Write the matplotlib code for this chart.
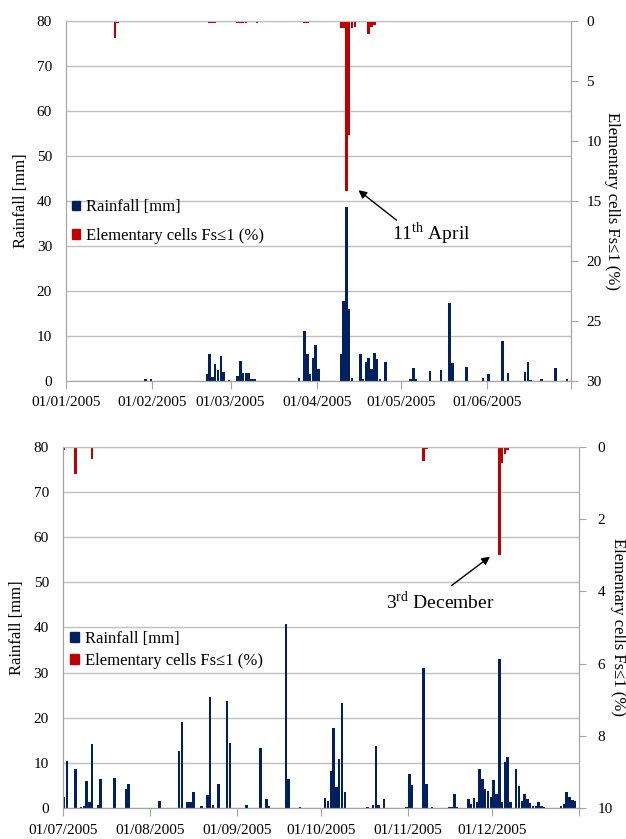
"""
plot.py

Daily rainfall (bars from the bottom) and share of elementary cells with
Fs<=1 (bars hanging from the top, reversed right axis), two half-years of 2005.
"""

import datetime as dt

import matplotlib
matplotlib.use("Agg")
import matplotlib.pyplot as plt
import matplotlib.dates as mdates
from matplotlib.patches import Patch

plt.rcParams["font.family"] = ["Liberation Serif", "DejaVu Serif"]
plt.rcParams["mathtext.fontset"] = "custom"
plt.rcParams["mathtext.rm"] = "Liberation Serif"

#####################################
# Data (day = days since the start of each panel)
#####################################

# January - June 2005
start_1 = dt.date(2005, 1, 1)
end_1 = dt.date(2005, 7, 1)
rain_days_1 = [28, 30, 50, 51, 52, 53, 54, 55, 56, 58, 61, 62, 63, 64, 65, 66, 67,
               83, 85, 86, 87, 88, 89, 90, 98, 99, 100, 101, 102,
               105, 106, 107, 108, 109, 110, 111, 112, 114,
               123, 124, 125, 130, 134, 137, 138, 143, 149, 151, 156, 158,
               164, 165, 166, 170, 175, 179]
rain_mm_1 = [0.5, 0.5, 1.5, 5.9, 0.8, 3.8, 2.5, 5.5, 2.0, 0.3, 1.2, 4.4, 1.8, 1.8, 1.8, 0.4, 0.4,
             0.6, 11.1, 5.9, 1.5, 5.2, 7.9, 2.6, 6.1, 17.7, 38.7, 15.9, 0.7,
             5.9, 0.4, 4.3, 5.2, 2.6, 6.3, 4.9, 0.5, 4.3,
             0.5, 2.9, 0.4, 2.2, 2.4, 17.4, 4.0, 3.1, 0.6, 1.5, 8.9, 1.8,
             2.0, 4.2, 0.3, 0.5, 2.9, 0.5]
cells_days_1 = [17, 18, 21, 51, 52, 53, 55, 56, 61, 62, 63, 64, 65, 68, 69,
                85, 86, 87, 88, 89, 90, 98, 99, 100, 101, 102, 103,
                108, 109, 110, 113, 114, 115, 137, 138]
cells_pct_1 = [1.4, 0.15, 0.1, 0.15, 0.15, 0.15, 0.1, 0.1, 0.15, 0.15, 0.15, 0.15, 0.1, 0.15, 0.1,
               0.15, 0.15, 0.1, 0.1, 0.1, 0.1, 0.6, 0.6, 14.2, 9.5, 0.6, 0.5,
               1.1, 0.5, 0.3, 0.1, 0.1, 0.1, 0.1, 0.05]

# July - December 2005
start_2 = dt.date(2005, 7, 1)
end_2 = dt.date(2006, 1, 1)
rain_days_2 = [0, 1, 4, 6, 7, 8, 9, 10, 12, 13, 18, 22, 23, 34, 41, 42, 44, 45, 46, 49,
               51, 52, 53, 55, 58, 59, 65, 70, 72, 73, 79, 80, 84,
               93, 94, 95, 96, 97, 98, 99, 100, 108, 110, 111, 112, 114,
               122, 123, 124, 128, 129, 131, 137, 138, 139, 140,
               144, 145, 146, 147, 148, 149, 150, 151, 152, 153, 154, 155, 156, 157,
               158, 159, 161, 162, 163, 164, 165, 166, 167, 168, 169, 170, 171,
               177, 178, 179, 180, 181, 182]
rain_mm_2 = [2.6, 10.4, 8.6, 0.3, 0.4, 6.1, 1.3, 14.3, 0.8, 6.5, 6.8, 4.3, 5.4, 1.7, 12.7, 19.0,
             1.3, 1.3, 3.5, 0.5,
             2.9, 24.7, 0.8, 5.4, 23.7, 14.4, 0.7, 13.4, 2.1, 0.4, 40.8, 6.5, 0.3,
             2.3, 1.6, 8.2, 17.8, 4.7, 10.9, 23.3, 3.5, 0.3, 0.7, 13.8, 0.7, 2.1,
             0.2, 7.6, 5.1, 31.0, 5.4, 0.3, 0.2, 0.3, 3.2, 0.2,
             2.1, 0.9, 2.2, 1.3, 8.8, 6.4, 4.2, 3.9, 2.6, 6.3, 3.1, 33.0, 1.5, 10.3,
             11.4, 1.5, 8.7, 4.9, 1.6, 3.1, 2.1, 1.1, 0.5, 0.5, 1.3, 0.6, 0.2,
             0.6, 1.0, 3.5, 2.6, 1.8, 1.7]
cells_days_2 = [0, 4, 5, 9, 10, 18, 42, 96, 99, 111, 128, 129, 149, 155, 156, 157, 158]
cells_pct_2 = [0.1, 0.75, 0.05, 0.05, 0.35, 0.03, 0.05, 0.03, 0.05, 0.03, 0.4, 0.07, 0.03,
               3.0, 0.46, 0.2, 0.1]

RAIN_COLOR = "#002060"
CELLS_COLOR = "#c00000"
GRID_COLOR = "#c0c0c0"
SPINE_COLOR = "#a6a6a6"


def month_starts(start, end):
    """List the first day of every month from start to end (inclusive)."""
    out = []
    d = start
    while d <= end:
        out.append(d)
        d = dt.date(d.year + (d.month == 12), d.month % 12 + 1, 1)
    return out


def draw_panel(rect, start, end, rain_days, rain_mm, cells_days, cells_pct,
               cells_max, cells_step, legend_anchor, legend_spacing, right_pad,
               right_labelpad):
    ax = fig.add_axes(rect)
    ax2 = ax.twinx()

    x0 = mdates.date2num(start)
    rain_x = [x0 + d + 0.5 for d in rain_days]
    cells_x = [x0 + d + 0.5 for d in cells_days]

    ax.bar(rain_x, rain_mm, width=0.88, color=RAIN_COLOR, linewidth=0, zorder=2)
    ax2.bar(cells_x, cells_pct, width=0.88, color=CELLS_COLOR, linewidth=0, zorder=2)

    ax.set_xlim(x0, mdates.date2num(end))
    ax.set_ylim(0, 80)
    ax.set_yticks(range(0, 81, 10))
    ax.grid(axis="y", color=GRID_COLOR, linewidth=1.0)
    ax.set_axisbelow(True)

    ax2.set_ylim(cells_max, 0)
    ax2.set_yticks([v for v in range(0, cells_max + 1, cells_step)])

    ticks = month_starts(start, end)
    ax.set_xticks([mdates.date2num(t) for t in ticks])
    ax.set_xticklabels([t.strftime("%d/%m/%Y") for t in ticks[:-1]] + [""])

    ax.tick_params(axis="x", length=6, width=0.8, color=SPINE_COLOR, pad=5, labelsize=11)
    ax.tick_params(axis="y", length=0, pad=10, labelsize=11)
    ax2.tick_params(axis="y", length=5, width=0.8, color=SPINE_COLOR, pad=right_pad,
                    labelsize=11)

    for a in (ax, ax2):
        for side in ("left", "right", "bottom"):
            a.spines[side].set_color(SPINE_COLOR)
        a.spines["top"].set_color(GRID_COLOR)

    ax.set_ylabel("Rainfall [mm]", fontsize=12, labelpad=6)
    ax2.set_ylabel("Elementary cells Fs\u22641 (%)", fontsize=12, rotation=270,
                   labelpad=right_labelpad)

    handles = [Patch(color=RAIN_COLOR, label="Rainfall [mm]"),
               Patch(color=CELLS_COLOR, label="Elementary cells Fs\u22641 (%)")]
    ax2.legend(handles=handles, loc="upper left", bbox_to_anchor=legend_anchor,
               frameon=False, fontsize=12, handlelength=0.5, handleheight=0.5,
               handletextpad=0.35, borderpad=0, borderaxespad=0,
               labelspacing=legend_spacing)
    return ax, ax2


#####################################
# Figure
#####################################

fig = plt.figure(figsize=(6.26, 8.39), dpi=100)

ax_a, ax_a2 = draw_panel([0.1054, 0.5459, 0.8067, 0.4290], start_1, end_1,
                         rain_days_1, rain_mm_1, cells_days_1, cells_pct_1,
                         30, 5, (0.012, 0.505), 0.75, 6, 13)
ax_b, ax_b2 = draw_panel([0.1002, 0.0366, 0.8252, 0.4310], start_2, end_2,
                         rain_days_2, rain_mm_2, cells_days_2, cells_pct_2,
                         10, 2, (0.015, 0.49), 0.35, 8, 10)

# annotations
x1 = mdates.date2num(start_1)
ax_a2.annotate("", xy=(x1 + 104.8, 14.1), xytext=(x1 + 118.5, 16.6),
               arrowprops=dict(arrowstyle="-|>", color="black", lw=1.0,
                               mutation_scale=12, shrinkA=0, shrinkB=0))
ax_a2.text(x1 + 117, 17.7, r"11$^{\rm th}$ April", fontsize=14, ha="left", va="center")

x2 = mdates.date2num(start_2)
ax_b2.annotate("", xy=(x2 + 152.2, 3.04), xytext=(x2 + 138.5, 3.84),
               arrowprops=dict(arrowstyle="-|>", color="black", lw=1.0,
                               mutation_scale=12, shrinkA=0, shrinkB=0))
ax_b2.text(x2 + 134.4, 4.28, r"3$^{\rm rd}$ December", fontsize=14, ha="center",
           va="center")

fig.savefig("out.png", dpi=100)
